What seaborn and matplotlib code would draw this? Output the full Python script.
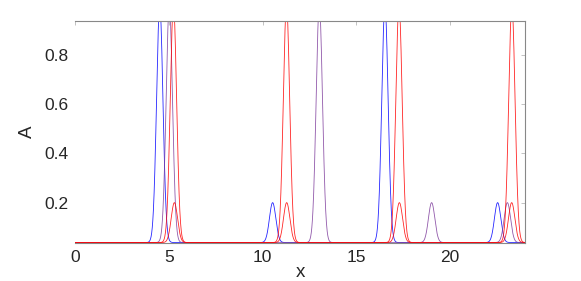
import numpy as np
import pandas as pd
import matplotlib
matplotlib.use("Agg")
import matplotlib.pyplot as plt
import seaborn as sns

# peak centres (x) and heights (A), one list per trace
blue_centers = [4.52, 10.54, 16.53, 22.54]
blue_heights = [1.0, 0.2, 1.0, 0.2]
purple_centers = [5.03, 13.03, 19.02, 23.06]
purple_heights = [1.0, 1.0, 0.2, 0.2]
red_tall_centers = [5.25, 11.28, 17.28, 23.30]
red_tall_heights = [1.0, 1.0, 1.0, 1.0]
red_small_centers = [5.30, 11.29, 17.30, 23.29]
red_small_heights = [0.2, 0.2, 0.2, 0.2]
peak_width = 0.17
baseline = 0.038

x = np.linspace(0, 24, 2401)


def trace(centers, heights):
    y = np.full_like(x, baseline)
    for c, h in zip(centers, heights):
        y += (h - baseline) * np.exp(-0.5 * ((x - c) / peak_width) ** 2)
    return y


traces = {
    "blue": trace(blue_centers, blue_heights),
    "purple": trace(purple_centers, purple_heights),
    "red_tall": trace(red_tall_centers, red_tall_heights),
    "red_small": trace(red_small_centers, red_small_heights),
}
df = pd.concat(
    [pd.DataFrame({"x": x, "A": y, "trace": name}) for name, y in traces.items()],
    ignore_index=True,
)
palette = {"blue": "#0000ff", "purple": "#7e3c9c", "red_tall": "#ff0000", "red_small": "#ff0000"}

sns.set_style("white")
plt.rcParams["font.family"] = ["Liberation Sans", "DejaVu Sans"]

fig = plt.figure(figsize=(5.81, 2.81), dpi=100)
ax = fig.add_axes([75 / 581, 1 - 243 / 281, 450 / 581, 222 / 281])
sns.lineplot(data=df, x="x", y="A", hue="trace", palette=palette, linewidth=0.6,
             alpha=0.85, legend=False, ax=ax, estimator=None, sort=False)

ax.set_xlim(0, 24)
ax.set_ylim(0.036, 0.938)
ax.set_xticks([0, 5, 10, 15, 20])
ax.set_yticks([0.2, 0.4, 0.6, 0.8])
ax.set_xticklabels(["0", "5", "10", "15", "20"])
ax.set_yticklabels(["0.2", "0.4", "0.6", "0.8"])
ax.tick_params(direction="in", length=3, width=0.5, color="#aaaaaa", labelcolor="#262626",
               labelsize=12.5, top=True, right=True, pad=5)
ax.set_xlabel("x", fontsize=13.5, color="#262626", labelpad=-1)
ax.set_ylabel("A", fontsize=13.5, color="#262626", labelpad=6)

for side in ["top", "right", "bottom"]:
    ax.spines[side].set_color("#888888")
    ax.spines[side].set_linewidth(0.8)
ax.spines["left"].set_visible(False)

fig.savefig("out.png", dpi=100)
